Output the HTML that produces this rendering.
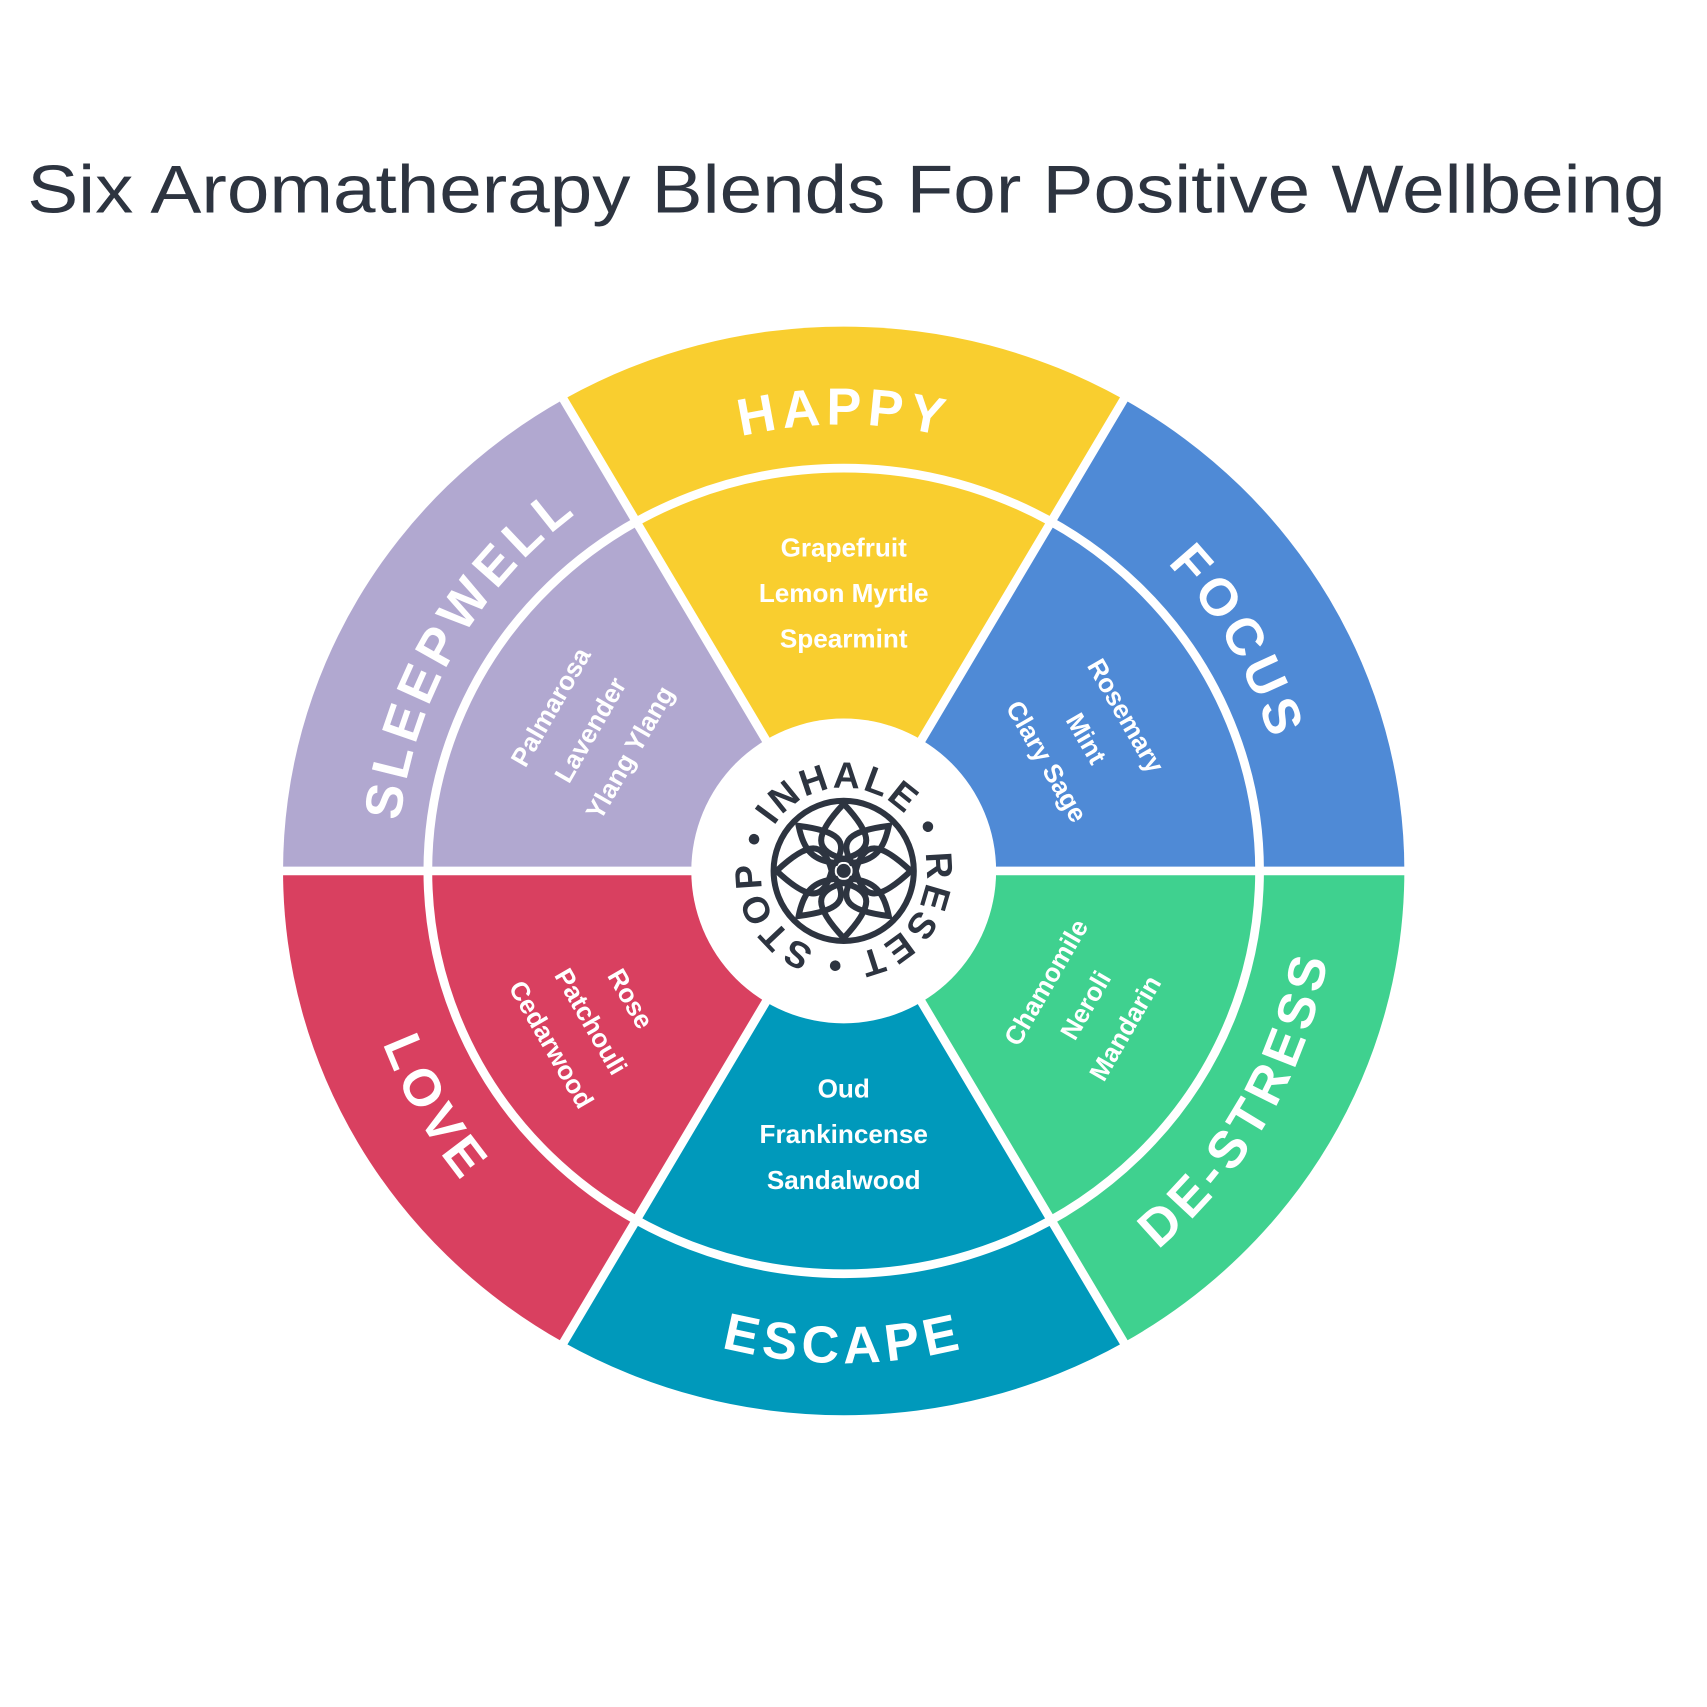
<!DOCTYPE html>
<html><head><meta charset="utf-8"><style>
html,body{margin:0;padding:0;background:#fff;}
svg{display:block;}
.o{font-family:"Liberation Sans",sans-serif;font-weight:bold;font-size:48px;fill:#fff;letter-spacing:5px;}
.i{font-family:"Liberation Sans",sans-serif;font-weight:bold;font-size:24px;fill:#fff;text-anchor:middle;}
</style></head><body>
<svg width="1707" height="1707" viewBox="0 0 1568 1568" xmlns="http://www.w3.org/2000/svg">
<rect width="1568" height="1568" fill="#fff"/>
<text x="25" y="195" font-family="Liberation Sans, sans-serif" font-size="62" fill="#2d3440" textLength="1505" lengthAdjust="spacingAndGlyphs">Six Aromatherapy Blends For Positive Wellbeing</text>
<g>
<path d="M775,800 L1290,800 A515 500 0 0 0 1032.5,367 Z" fill="#4F8AD6"/>
<path d="M775,800 L1032.5,367 A515 500 0 0 0 517.5,367 Z" fill="#F9CE2F"/>
<path d="M775,800 L517.5,367 A515 500 0 0 0 260,800 Z" fill="#B1A8D0"/>
<path d="M775,800 L260,800 A515 500 0 0 0 517.5,1233 Z" fill="#D94060"/>
<path d="M775,800 L517.5,1233 A515 500 0 0 0 1032.5,1233 Z" fill="#0099BB"/>
<path d="M775,800 L1032.5,1233 A515 500 0 0 0 1290,800 Z" fill="#3FD18F"/>
<g stroke="#fff" stroke-width="8">
<line x1="250" y1="800" x2="1300" y2="800"/>
<line x1="775" y1="800" x2="1037" y2="359"/>
<line x1="775" y1="800" x2="513" y2="359"/>
<line x1="775" y1="800" x2="513" y2="1241"/>
<line x1="775" y1="800" x2="1037" y2="1241"/>
</g>
<ellipse cx="775" cy="800" rx="382" ry="370" fill="none" stroke="#fff" stroke-width="8"/>
<circle cx="775" cy="800" r="140" fill="#fff"/>
</g>
<defs>
<path id="top" d="M365,800 A410 410 0 0 1 1185,800"/>
<path id="bot" d="M323,800 A452 452 0 0 0 1227,800"/>
<path id="ctr" d="M709,762 A76 76 0 1 1 841,838 A76 76 0 1 1 709,762"/>
</defs>
<text class="o"><textPath href="#top" startOffset="16.7%" text-anchor="middle">SLEEPWELL</textPath></text>
<text class="o"><textPath href="#top" startOffset="50%" text-anchor="middle">HAPPY</textPath></text>
<text class="o"><textPath href="#top" startOffset="83.3%" text-anchor="middle">FOCUS</textPath></text>
<text class="o"><textPath href="#bot" startOffset="16.7%" text-anchor="middle">LOVE</textPath></text>
<text class="o"><textPath href="#bot" startOffset="50%" text-anchor="middle">ESCAPE</textPath></text>
<text class="o"><textPath href="#bot" startOffset="83.3%" text-anchor="middle">DE-STRESS</textPath></text>

<g transform="translate(775,548)"><text class="i" y="-37">Grapefruit</text><text class="i" y="5">Lemon Myrtle</text><text class="i" y="47">Spearmint</text></g>
<g transform="translate(995,680) rotate(60)"><text class="i" y="-37">Rosemary</text><text class="i" y="5">Mint</text><text class="i" y="47">Clary Sage</text></g>
<g transform="translate(545,672) rotate(-60)"><text class="i" y="-37">Palmarosa</text><text class="i" y="5">Lavender</text><text class="i" y="47">Ylang Ylang</text></g>
<g transform="translate(540,940) rotate(60)"><text class="i" y="-37">Rose</text><text class="i" y="5">Patchouli</text><text class="i" y="47">Cedarwood</text></g>
<g transform="translate(1000,925) rotate(-60)"><text class="i" y="-37">Chamomile</text><text class="i" y="5">Neroli</text><text class="i" y="47">Mandarin</text></g>
<g transform="translate(775,1045)"><text class="i" y="-37">Oud</text><text class="i" y="5">Frankincense</text><text class="i" y="47">Sandalwood</text></g>

<text font-family="Liberation Sans, sans-serif" font-weight="bold" font-size="34" fill="#2d3440"><textPath href="#ctr" startOffset="4" textLength="466" lengthAdjust="spacing">INHALE • RESET • STOP •</textPath></text>
<g fill="none" stroke="#2d3440" stroke-width="6" transform="translate(775,800) scale(0.92) translate(-775,-800)">
<circle cx="775" cy="800" r="70"/>
<circle cx="775" cy="800" r="12"/>
<circle cx="775" cy="800" r="4" fill="#2d3440"/>
<path d="M775,733 C805,765 805,780 775,788 C745,780 745,765 775,733Z"/>
<path d="M775,867 C805,835 805,820 775,812 C745,820 745,835 775,867Z"/>
<path d="M708,800 C740,770 755,770 763,800 C755,830 740,830 708,800Z"/>
<path d="M842,800 C810,770 795,770 787,800 C795,830 810,830 842,800Z"/>
<path d="M730,755 C770,760 780,770 767,792 C745,790 735,780 730,755Z"/>
<path d="M820,755 C780,760 770,770 783,792 C805,790 815,780 820,755Z"/>
<path d="M730,845 C770,840 780,830 767,808 C745,810 735,820 730,845Z"/>
<path d="M820,845 C780,840 770,830 783,808 C805,810 815,820 820,845Z"/>
</g>
</svg>
</body></html>
